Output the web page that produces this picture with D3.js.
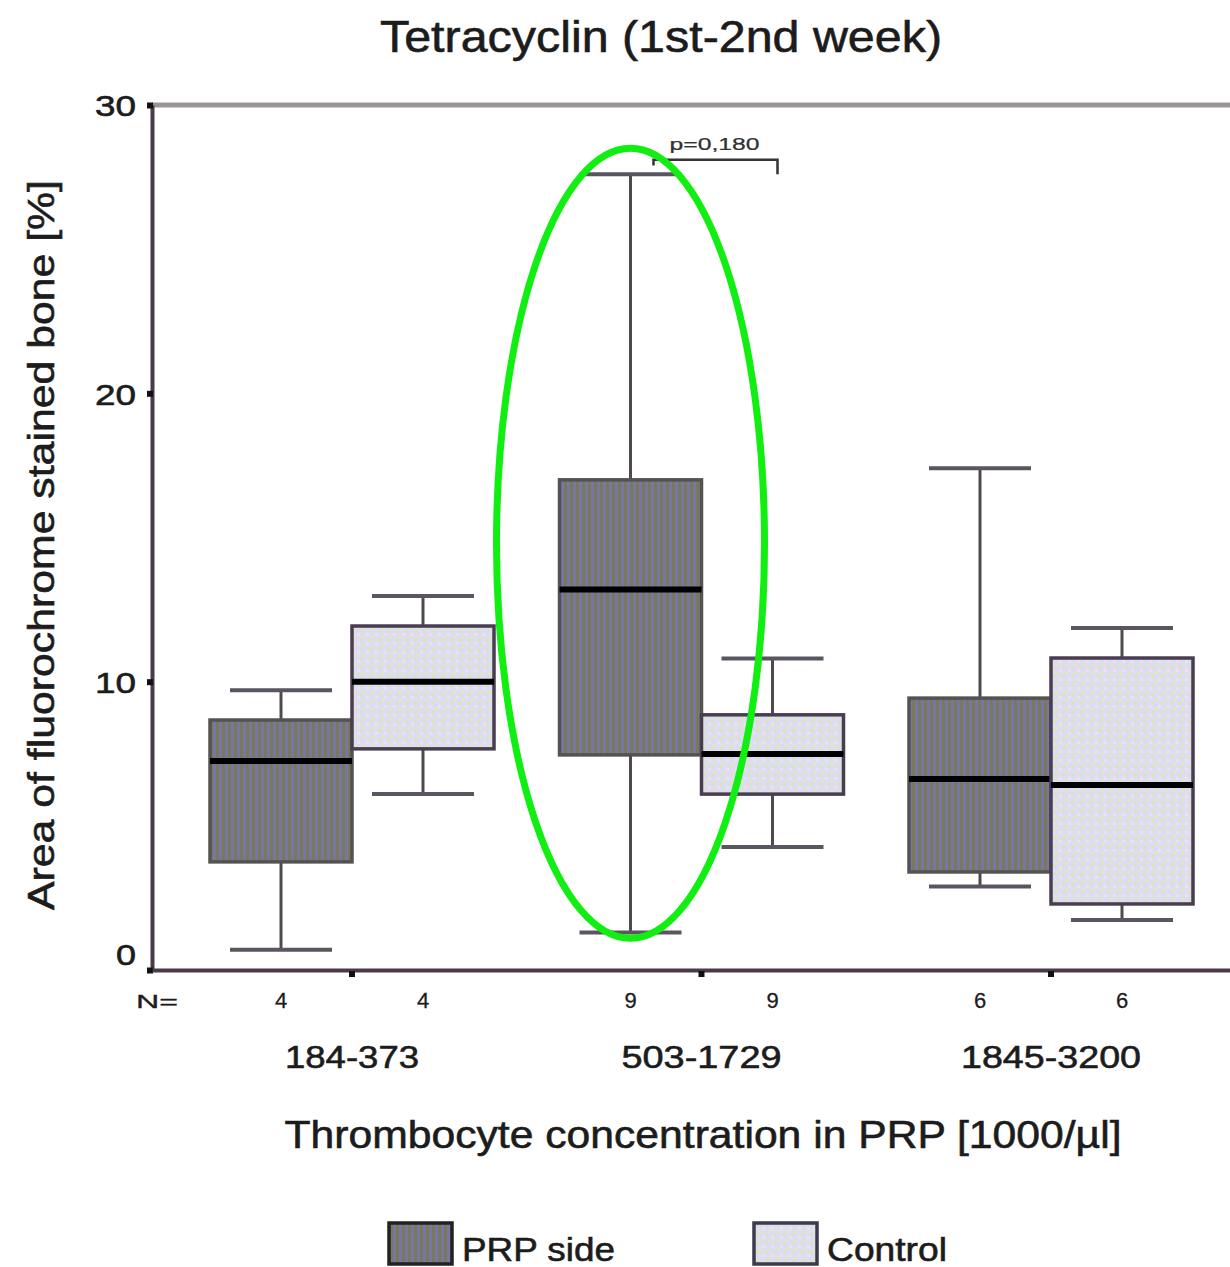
<!DOCTYPE html>
<html><head><meta charset="utf-8">
<script src="https://cdn.jsdelivr.net/npm/d3@7"></script>
<style>body{margin:0;background:#fff}svg{display:block}text{font-family:"Liberation Sans",Arial,sans-serif}</style>
</head><body><div id="chart"></div>
<script>
const groups = ["184-373", "503-1729", "1845-3200"];
const series = ["PRP side", "Control"];
const nCounts = [[4, 4], [9, 9], [6, 6]];
// [whiskerLow, Q1, median, Q3, whiskerHigh]
const prpStats = [
  [0.7, 3.75, 7.25, 8.67, 9.7],
  [1.3, 7.46, 13.2, 17.0, 27.6],
  [2.9, 3.4, 6.62, 9.43, 17.4]
];
const controlStats = [
  [6.1, 7.67, 10.0, 11.93, 12.97],
  [4.27, 6.1, 7.49, 8.85, 10.8],
  [1.73, 2.29, 6.42, 10.82, 11.86]
];
const yTicks = [0, 10, 20, 30];
const pLabel = "p=0,180";
const highlight = { group: "503-1729", series: "PRP side", low: 1.1, high: 28.5 };

const W = 1230, H = 1267;
const svg = d3.select("#chart").append("svg").attr("width", W).attr("height", H);
const defs = svg.append("defs");
const pd = defs.append("pattern").attr("id", "pDark").attr("patternUnits", "userSpaceOnUse").attr("width", 6).attr("height", 6);
pd.append("rect").attr("width", 6).attr("height", 6).attr("fill", "#7a7955");
pd.append("rect").attr("x", 3).attr("width", 3).attr("height", 6).attr("fill", "#7776a8");
const pl = defs.append("pattern").attr("id", "pLight").attr("patternUnits", "userSpaceOnUse").attr("width", 9).attr("height", 9);
pl.append("rect").attr("width", 9).attr("height", 9).attr("fill", "#d9ddf6");
pl.append("rect").attr("x", 0).attr("y", 0).attr("width", 3).attr("height", 3).attr("fill", "#dfe3b4");
pl.append("rect").attr("x", 6).attr("y", 3).attr("width", 3).attr("height", 3).attr("fill", "#f6dcee");
pl.append("rect").attr("x", 3).attr("y", 6).attr("width", 3).attr("height", 3).attr("fill", "#e2e6b8");

const txt = "#1c1c1c";
function styleText(sel, size, len) {
  sel.attr("font-size", size).attr("fill", txt).attr("stroke", txt).attr("stroke-width", 0.6);
  if (len) sel.attr("textLength", len).attr("lengthAdjust", "spacingAndGlyphs");
  return sel;
}

const x0 = 152, x1 = 1230;
const y = d3.scaleLinear().domain([0, 30]).range([970, 105]);
const xg = d3.scalePoint().domain(groups).range([352, 1051]);
const boxW = 142;
const xs = d3.scaleOrdinal().domain(series).range([-boxW / 2, boxW / 2]);
const fills = { "PRP side": "url(#pDark)", "Control": "url(#pLight)" };
const strokes = { "PRP side": "#55524f", "Control": "#4a3d52" };

// top frame line
svg.append("line").attr("x1", x0).attr("x2", x1).attr("y1", y(30)).attr("y2", y(30))
  .attr("stroke", "#9a9598").attr("stroke-width", 5);

// y axis
const yAxis = d3.axisLeft(y).tickValues(yTicks).tickSize(0).tickPadding(16);
const gy = svg.append("g").attr("transform", `translate(${x0},0)`).call(yAxis);
gy.select(".domain").attr("stroke", "#4a3a4a").attr("stroke-width", 4);
gy.selectAll("text").attr("font-family", null).call(s => styleText(s, 30))
  .attr("textLength", d => d === 0 ? 20 : 41).attr("lengthAdjust", "spacingAndGlyphs")
  .attr("dy", d => d === 0 ? "-0.2em" : "0.36em");
gy.selectAll(".tick").append("rect").attr("x", -5).attr("y", -3).attr("width", 6).attr("height", 6).attr("fill", "#111");

// x axis
const gx = svg.append("g").attr("transform", `translate(0,${y(0)})`)
  .call(d3.axisBottom(d3.scaleLinear().domain([x0, x1]).range([x0, x1])).tickValues([]).tickSizeOuter(0));
gx.select(".domain").attr("stroke", "#4a3a4a").attr("stroke-width", 4);
svg.selectAll(".gtick").data(groups).enter().append("rect")
  .attr("x", d => xg(d) - 3).attr("y", y(0) + 1).attr("width", 6).attr("height", 6).attr("fill", "#111");

// boxes
const data = [];
groups.forEach((g, i) => {
  data.push({ g, s: "PRP side", st: prpStats[i], n: nCounts[i][0] });
  data.push({ g, s: "Control", st: controlStats[i], n: nCounts[i][1] });
});
const bx = d => xg(d.g) + xs(d.s);
const boxes = svg.append("g").selectAll("g").data(data).enter().append("g");
boxes.append("line").attr("x1", bx).attr("x2", bx).attr("y1", d => y(d.st[4])).attr("y2", d => y(d.st[3]))
  .attr("stroke", "#4f4a50").attr("stroke-width", 3);
boxes.append("line").attr("x1", bx).attr("x2", bx).attr("y1", d => y(d.st[1])).attr("y2", d => y(d.st[0]))
  .attr("stroke", "#4f4a50").attr("stroke-width", 3);
boxes.append("line").attr("x1", d => bx(d) - 51).attr("x2", d => bx(d) + 51)
  .attr("y1", d => y(d.st[4])).attr("y2", d => y(d.st[4])).attr("stroke", "#5a5560").attr("stroke-width", 4);
boxes.append("line").attr("x1", d => bx(d) - 51).attr("x2", d => bx(d) + 51)
  .attr("y1", d => y(d.st[0])).attr("y2", d => y(d.st[0])).attr("stroke", "#5a5560").attr("stroke-width", 4);
boxes.append("rect").attr("x", d => bx(d) - boxW / 2).attr("width", boxW)
  .attr("y", d => y(d.st[3])).attr("height", d => y(d.st[1]) - y(d.st[3]))
  .attr("fill", d => fills[d.s]).attr("stroke", d => strokes[d.s]).attr("stroke-width", 3.5);
boxes.append("line").attr("x1", d => bx(d) - boxW / 2).attr("x2", d => bx(d) + boxW / 2)
  .attr("y1", d => y(d.st[2])).attr("y2", d => y(d.st[2])).attr("stroke", "#000").attr("stroke-width", 6);

// N labels
styleText(svg.append("text").attr("x", 136).attr("y", 1008).text("N="), 18, 42).attr("stroke-width", 0.3);
boxes.append("text").attr("x", bx).attr("y", 1008).attr("text-anchor", "middle").text(d => d.n)
  .call(s => styleText(s, 22)).attr("stroke-width", 0.3);

// group labels
const gLens = [134, 160, 180];
svg.selectAll(".glab").data(groups).enter().append("text")
  .attr("x", d => xg(d)).attr("y", 1068).attr("text-anchor", "middle").text(d => d)
  .call(s => styleText(s, 32)).attr("textLength", (d, i) => gLens[i]).attr("lengthAdjust", "spacingAndGlyphs");

// titles
styleText(svg.append("text").attr("x", 661).attr("y", 52).attr("text-anchor", "middle")
  .text("Tetracyclin (1st-2nd week)"), 44, 562);
styleText(svg.append("text").attr("x", 703).attr("y", 1148).attr("text-anchor", "middle")
  .text("Thrombocyte concentration in PRP [1000/µl]"), 38, 837);
styleText(svg.append("text").attr("transform", "translate(54,545) rotate(-90)").attr("text-anchor", "middle")
  .text("Area of fluorochrome stained bone [%]"), 37, 730);

// p annotation
const hx = xg(highlight.group) + xs(highlight.series);
const pg = svg.append("g");
pg.append("path").attr("d", `M${hx + 23},${y(27.9)} V${y(28.1)} H${hx + 147} V${y(27.6)}`)
  .attr("fill", "none").attr("stroke", "#333").attr("stroke-width", 2.5);
pg.append("rect").attr("x", hx + 36).attr("y", 132).attr("width", 96).attr("height", 20).attr("fill", "#fff");
styleText(pg.append("text").attr("x", hx + 84).attr("y", 150).attr("text-anchor", "middle").text(pLabel), 16, 90)
  .attr("stroke-width", 0.2).attr("fill", "#333");

// highlight ellipse
svg.append("ellipse").attr("cx", hx).attr("cy", (y(highlight.low) + y(highlight.high)) / 2)
  .attr("rx", 134).attr("ry", (y(highlight.low) - y(highlight.high)) / 2)
  .attr("fill", "none").attr("stroke", "#11ee11").attr("stroke-width", 7);

// legend
const leg = svg.append("g");
const legX = [389, 754];
const legLens = [153, 120];
series.forEach((s, i) => {
  leg.append("rect").attr("x", legX[i]).attr("y", 1223).attr("width", 63).attr("height", 41)
    .attr("fill", fills[s]).attr("stroke", i === 0 ? "#222" : "#3a3a50").attr("stroke-width", 3.5);
  styleText(leg.append("text").attr("x", legX[i] + 73).attr("y", 1261).text(s), 33, legLens[i]);
});
</script></body></html>
